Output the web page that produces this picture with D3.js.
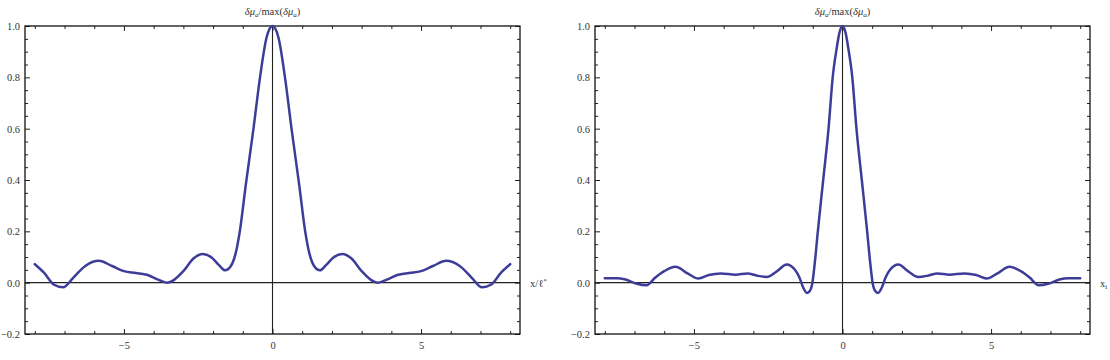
<!DOCTYPE html>
<html>
<head>
<meta charset="utf-8">
<script src="https://cdn.jsdelivr.net/npm/d3@7/dist/d3.min.js"></script>
<style>
  html, body { margin: 0; padding: 0; background: #fff; }
  svg { display: block; }
  text { font-family: "Liberation Serif", "DejaVu Serif", serif; }
</style>
</head>
<body>
<svg id="chart" width="1110" height="360"></svg>
<script>
// ---- Data ----
const leftX = [-8.0, -7.7, -7.35, -7.05, -6.7, -6.3, -5.85, -5.4, -5.0, -4.6, -4.2, -3.85, -3.55, -3.3, -3.0, -2.65, -2.35, -2.05, -1.8, -1.6, -1.4, -1.25, -1.1, -0.9, -0.64, -0.42, -0.2, 0,
               0.2, 0.42, 0.64, 0.9, 1.1, 1.25, 1.4, 1.6, 1.8, 2.05, 2.35, 2.65, 3.0, 3.3, 3.55, 3.85, 4.2, 4.6, 5.0, 5.4, 5.85, 6.3, 6.7, 7.05, 7.35, 7.7, 8.0];
const leftY = [0.072, 0.040, -0.008, -0.018, 0.020, 0.065, 0.085, 0.065, 0.045, 0.038, 0.030, 0.012, 0.000, 0.012, 0.045, 0.095, 0.112, 0.098, 0.068, 0.048, 0.065, 0.11, 0.20, 0.38, 0.60, 0.80, 0.955, 1.0,
               0.955, 0.80, 0.60, 0.38, 0.20, 0.11, 0.065, 0.048, 0.068, 0.098, 0.112, 0.095, 0.045, 0.012, 0.000, 0.012, 0.030, 0.038, 0.045, 0.065, 0.085, 0.065, 0.020, -0.018, -0.008, 0.040, 0.072];

const rightX = [-8.0, -7.6, -7.3, -6.95, -6.6, -6.3, -6.0, -5.62, -5.2, -4.85, -4.5, -4.1, -3.6, -3.2, -2.9, -2.55, -2.2, -1.88, -1.6, -1.45, -1.32, -1.2, -1.12, -1.02, -0.93, -0.83, -0.65, -0.47, -0.33, -0.2, -0.1, 0,
                0.1, 0.2, 0.33, 0.47, 0.65, 0.83, 0.93, 1.02, 1.12, 1.2, 1.32, 1.45, 1.6, 1.88, 2.2, 2.55, 2.9, 3.2, 3.6, 4.1, 4.5, 4.85, 5.2, 5.62, 6.0, 6.3, 6.6, 6.95, 7.3, 7.6, 8.0];
const rightY = [0.017, 0.017, 0.012, -0.003, -0.010, 0.020, 0.045, 0.062, 0.035, 0.016, 0.030, 0.036, 0.031, 0.036, 0.028, 0.022, 0.045, 0.071, 0.050, 0.020, -0.020, -0.040, -0.035, -0.005, 0.08, 0.20, 0.40, 0.60, 0.80, 0.91, 0.975, 1.0,
                0.975, 0.91, 0.80, 0.60, 0.40, 0.20, 0.08, -0.005, -0.035, -0.040, -0.020, 0.020, 0.050, 0.071, 0.045, 0.022, 0.028, 0.036, 0.031, 0.036, 0.030, 0.016, 0.035, 0.062, 0.045, 0.020, -0.010, -0.003, 0.012, 0.017, 0.017];

const xMajorTicks = [-5, 0, 5];
const xMinorTicks = [-8, -7, -6, -4, -3, -2, -1, 1, 2, 3, 4, 6, 7, 8];
const yMajorTicks = [-0.2, 0.0, 0.2, 0.4, 0.6, 0.8, 1.0];
const yMinorTicks = [-0.15, -0.1, -0.05, 0.05, 0.1, 0.15, 0.25, 0.3, 0.35, 0.45, 0.5, 0.55, 0.65, 0.7, 0.75, 0.85, 0.9, 0.95];

const panels = [
  { xs: leftX, ys: leftY, left: 25, right: 520 },
  { xs: rightX, ys: rightY, left: 595, right: 1090 }
];

const svg = d3.select("#chart");
const frameTop = 26, frameBottom = 334;
const lineColor = "#3d3d99";
const axisColor = "#222";
const labelColor = "#333";

panels.forEach((p, i) => {
  const x = d3.scaleLinear().domain([-8.33, 8.33]).range([p.left, p.right]);
  const y = d3.scaleLinear().domain([-0.2, 1.0]).range([frameBottom, frameTop]);
  const g = svg.append("g");

  // Axes through origin
  g.append("line").attr("x1", p.left).attr("x2", p.right)
    .attr("y1", y(0)).attr("y2", y(0)).attr("stroke", axisColor).attr("stroke-width", 1.1);
  g.append("line").attr("x1", x(0)).attr("x2", x(0))
    .attr("y1", frameTop).attr("y2", frameBottom).attr("stroke", axisColor).attr("stroke-width", 1.1);

  const fmtY = d => d === 0 ? "0.0" : (d < 0 ? "\u2212" : "") + Math.abs(d).toFixed(1);
  const fmtX = d => (d < 0 ? "\u2212" : "") + Math.abs(d);

  function styleAxis(sel) {
    sel.select(".domain").remove();
    sel.selectAll(".tick line").attr("stroke", axisColor).attr("stroke-width", 1);
    sel.selectAll(".tick text").attr("fill", labelColor)
      .style("font-family", "'Liberation Serif', serif").style("font-size", "10.5px");
  }

  // Bottom
  g.append("g").attr("transform", `translate(0,${frameBottom})`)
    .call(d3.axisBottom(x).tickValues(xMajorTicks).tickSize(-5).tickPadding(8).tickFormat(fmtX)).call(styleAxis);
  g.append("g").attr("transform", `translate(0,${frameBottom})`)
    .call(d3.axisBottom(x).tickValues(xMinorTicks).tickSize(-3).tickFormat("")).call(styleAxis);
  // Top
  g.append("g").attr("transform", `translate(0,${frameTop})`)
    .call(d3.axisTop(x).tickValues(xMajorTicks).tickSize(-5).tickFormat("")).call(styleAxis);
  g.append("g").attr("transform", `translate(0,${frameTop})`)
    .call(d3.axisTop(x).tickValues(xMinorTicks).tickSize(-3).tickFormat("")).call(styleAxis);
  // Left
  g.append("g").attr("transform", `translate(${p.left},0)`)
    .call(d3.axisLeft(y).tickValues(yMajorTicks).tickSize(-5).tickPadding(5).tickFormat(fmtY)).call(styleAxis);
  g.append("g").attr("transform", `translate(${p.left},0)`)
    .call(d3.axisLeft(y).tickValues(yMinorTicks).tickSize(-3).tickFormat("")).call(styleAxis);
  // Right
  g.append("g").attr("transform", `translate(${p.right},0)`)
    .call(d3.axisRight(y).tickValues(yMajorTicks).tickSize(-5).tickFormat("")).call(styleAxis);
  g.append("g").attr("transform", `translate(${p.right},0)`)
    .call(d3.axisRight(y).tickValues(yMinorTicks).tickSize(-3).tickFormat("")).call(styleAxis);

  // Frame
  g.append("rect").attr("x", p.left).attr("y", frameTop)
    .attr("width", p.right - p.left).attr("height", frameBottom - frameTop)
    .attr("fill", "none").attr("stroke", "#111").attr("stroke-width", 1.3);

  // Curve
  const pts = p.xs.map((v, k) => [v, p.ys[k]]);
  const line = d3.line().x(d => x(d[0])).y(d => y(d[1])).curve(d3.curveMonotoneX);
  g.append("path").datum(pts).attr("d", line)
    .attr("fill", "none").attr("stroke", lineColor).attr("stroke-width", 2.5)
    .attr("stroke-linejoin", "round").attr("stroke-linecap", "round");

  // Title
  const t = g.append("text").attr("x", x(0)).attr("y", 15)
    .attr("text-anchor", "middle").attr("fill", labelColor)
    .style("font-size", "10.5px");
  t.append("tspan").style("font-style", "italic").text("δμ");
  t.append("tspan").attr("dy", 2).style("font-size", "7px").style("font-style", "italic").text("a");
  t.append("tspan").attr("dy", -2).text("/max(");
  t.append("tspan").style("font-style", "italic").text("δμ");
  t.append("tspan").attr("dy", 2).style("font-size", "7px").style("font-style", "italic").text("a");
  t.append("tspan").attr("dy", -2).text(")");

  // Axis label
  const xl = g.append("text").attr("x", p.right + 10).attr("y", y(0) + 4)
    .attr("fill", labelColor).style("font-size", "10.5px");
  if (i === 0) {
    xl.append("tspan").text("x/ℓ");
    xl.append("tspan").attr("dy", -4).style("font-size", "7px").text("*");
  } else {
    xl.append("tspan").text("x");
    xl.append("tspan").attr("dy", 2).style("font-size", "7px").text("i");
  }
});
</script>
</body>
</html>
